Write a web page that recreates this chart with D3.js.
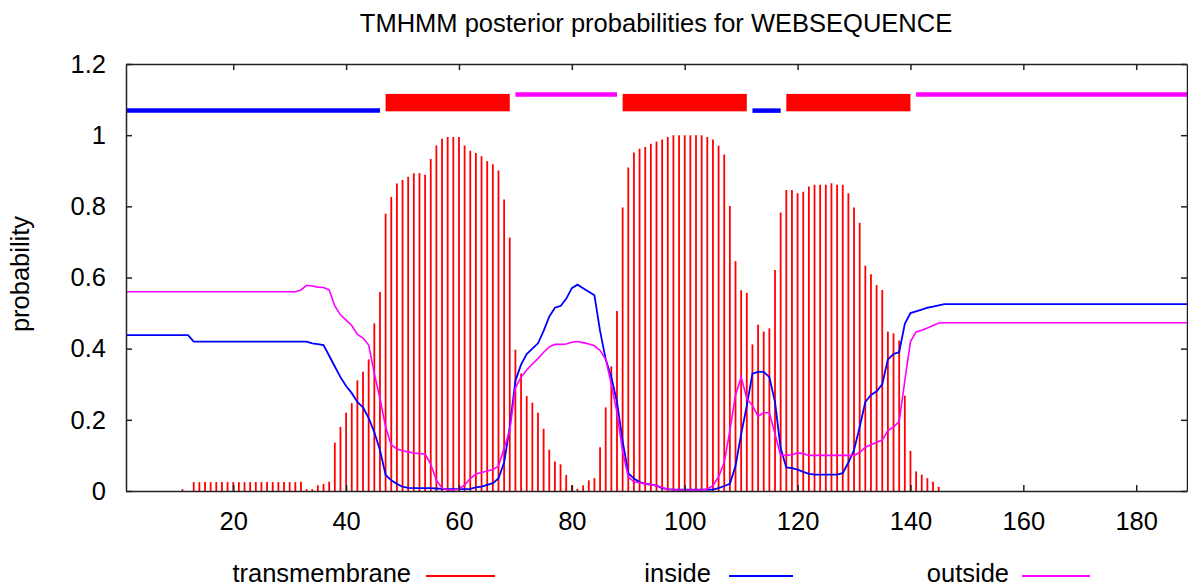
<!DOCTYPE html>
<html>
<head>
<meta charset="utf-8">
<script src="https://cdn.jsdelivr.net/npm/d3@7"></script>
<style>
  body { margin: 0; background: #fff; }
  svg { display: block; font-family: "Liberation Sans", Arial, sans-serif; }
</style>
</head>
<body>
<svg width="1188" height="587"></svg>
<script>
// posterior probabilities per residue (position = index + 1)
const transmembrane = [
  0,0,0,0,0,0,0,0,0,0,
  0.005,0,0.025,0.025,0.025,0.025,0.025,0.025,0.025,0.025,
  0.025,0.025,0.025,0.025,0.025,0.025,0.025,0.025,0.025,0.025,
  0.025,0.026,0.005,0.005,0.016,0.02,0.026,0.136,0.18,0.22,
  0.247,0.311,0.335,0.37,0.471,0.559,0.779,0.826,0.864,0.874,
  0.883,0.893,0.894,0.889,0.933,0.971,0.99,0.995,0.995,0.995,
  0.971,0.956,0.95,0.941,0.927,0.918,0.901,0.819,0.712,0.397,
  0.33,0.267,0.248,0.22,0.175,0.116,0.083,0.075,0.045,0.016,
  0.006,0.016,0.03,0.036,0.123,0.235,0.35,0.506,0.797,0.909,
  0.951,0.962,0.967,0.976,0.982,0.988,0.995,1,1,1,
  1,1,1,0.995,0.988,0.97,0.946,0.801,0.646,0.564,
  0.557,0.412,0.467,0.448,0.457,0.621,0.783,0.846,0.846,0.837,
  0.841,0.856,0.861,0.861,0.861,0.865,0.861,0.861,0.837,0.797,
  0.754,0.633,0.609,0.579,0.565,0.448,0.443,0.423,0.268,0.113,
  0.055,0.046,0.036,0.026,0.012
];

const inside = [
  0.438,0.438,0.438,0.438,0.438,0.438,0.438,0.438,0.438,0.438,
  0.438,0.438,0.42,0.42,0.42,0.42,0.42,0.42,0.42,0.42,
  0.42,0.42,0.42,0.42,0.42,0.42,0.42,0.42,0.42,0.42,
  0.42,0.42,0.42,0.415,0.413,0.41,0.38,0.35,0.32,0.295,
  0.275,0.25,0.235,0.205,0.165,0.115,0.045,0.03,0.02,0.012,
  0.009,0.008,0.008,0.008,0.008,0.007,0.006,0.005,0.005,0.005,
  0.005,0.006,0.01,0.012,0.017,0.022,0.035,0.08,0.18,0.31,
  0.355,0.385,0.4,0.415,0.45,0.49,0.515,0.52,0.54,0.57,
  0.58,0.57,0.56,0.55,0.45,0.37,0.32,0.25,0.14,0.05,
  0.035,0.025,0.02,0.018,0.015,0.008,0.005,0.004,0.004,0.004,
  0.004,0.004,0.004,0.004,0.004,0.008,0.014,0.02,0.07,0.16,
  0.24,0.33,0.335,0.335,0.32,0.25,0.12,0.066,0.064,0.06,
  0.054,0.048,0.046,0.046,0.046,0.046,0.046,0.05,0.08,0.115,
  0.18,0.25,0.27,0.28,0.3,0.37,0.385,0.39,0.47,0.5,
  0.505,0.51,0.515,0.518,0.522,0.525,0.525,0.525,0.525,0.525,
  0.525,0.525,0.525,0.525,0.525,0.525,0.525,0.525,0.525,0.525,
  0.525,0.525,0.525,0.525,0.525,0.525,0.525,0.525,0.525,0.525,
  0.525,0.525,0.525,0.525,0.525,0.525,0.525,0.525,0.525,0.525,
  0.525,0.525,0.525,0.525,0.525,0.525,0.525,0.525,0.525
];

const outside = [
  0.56,0.56,0.56,0.56,0.56,0.56,0.56,0.56,0.56,0.56,
  0.56,0.56,0.56,0.56,0.56,0.56,0.56,0.56,0.56,0.56,
  0.56,0.56,0.56,0.56,0.56,0.56,0.56,0.56,0.56,0.56,
  0.56,0.565,0.578,0.576,0.573,0.572,0.565,0.52,0.495,0.48,
  0.465,0.44,0.43,0.41,0.33,0.26,0.18,0.13,0.118,0.113,
  0.11,0.107,0.105,0.104,0.075,0.03,0.008,0.003,0.003,0.005,
  0.017,0.035,0.048,0.052,0.056,0.06,0.07,0.12,0.17,0.29,
  0.32,0.34,0.357,0.372,0.39,0.405,0.412,0.412,0.413,0.418,
  0.42,0.417,0.413,0.408,0.395,0.37,0.3,0.22,0.11,0.04,
  0.026,0.023,0.02,0.018,0.015,0.01,0.005,0.003,0.003,0.003,
  0.003,0.003,0.003,0.006,0.015,0.04,0.08,0.17,0.27,0.32,
  0.26,0.24,0.21,0.22,0.22,0.16,0.1,0.1,0.102,0.107,
  0.105,0.1,0.1,0.1,0.1,0.1,0.1,0.1,0.1,0.1,
  0.108,0.123,0.13,0.137,0.143,0.17,0.18,0.195,0.31,0.42,
  0.447,0.452,0.458,0.465,0.472,0.473,0.473,0.473,0.473,0.473,
  0.473,0.473,0.473,0.473,0.473,0.473,0.473,0.473,0.473,0.473,
  0.473,0.473,0.473,0.473,0.473,0.473,0.473,0.473,0.473,0.473,
  0.473,0.473,0.473,0.473,0.473,0.473,0.473,0.473,0.473,0.473,
  0.473,0.473,0.473,0.473,0.473,0.473,0.473,0.473,0.473
];

// predicted topology
const segStart = [1, 47, 70, 89, 112, 118, 141];
const segEnd = [46, 69, 88, 111, 117, 140, 189];
const segType = ["inside", "TMhelix", "outside", "TMhelix", "inside", "TMhelix", "outside"];

const xTicks = [20, 40, 60, 80, 100, 120, 140, 160, 180];
const yTicks = [0, 0.2, 0.4, 0.6, 0.8, 1, 1.2];
const legendLabels = ["transmembrane", "inside", "outside"];
const seqLength = 189;

const colors = { transmembrane: "#ff0000", TMhelix: "#ff0000", inside: "#0000ff", outside: "#ff00ff" };
const fontSize = 25.5;

const svg = d3.select("svg");
const plotLeft = 126, plotRight = 1187, plotTop = 64, plotBottom = 491;

const x = d3.scaleLinear().domain([1, seqLength]).range([plotLeft, plotRight]);
const y = d3.scaleLinear().domain([0, 1.2]).range([plotBottom, plotTop]);

// title
svg.append("text")
  .attr("x", 656)
  .attr("y", 32)
  .attr("text-anchor", "middle")
  .attr("font-size", fontSize)
  .text("TMHMM posterior probabilities for WEBSEQUENCE");

// y label
svg.append("text")
  .attr("transform", "translate(29,274) rotate(-90)")
  .attr("text-anchor", "middle")
  .attr("font-size", fontSize)
  .text("probability");

const plot = svg.append("g");

// transmembrane impulses
const tmData = transmembrane.map((v, i) => ({ pos: i + 1, v })).filter(d => d.v > 0);
plot.selectAll(".bar")
  .data(tmData)
  .enter()
  .append("line")
  .attr("class", "bar")
  .attr("x1", d => x(d.pos))
  .attr("x2", d => x(d.pos))
  .attr("y1", y(0))
  .attr("y2", d => y(d.v))
  .attr("stroke", colors.transmembrane)
  .attr("stroke-width", 1.8);

const line = d3.line().x(d => x(d.pos)).y(d => y(d.v));

plot.append("path")
  .datum(inside.map((v, i) => ({ pos: i + 1, v })))
  .attr("d", line)
  .attr("fill", "none")
  .attr("stroke", colors.inside)
  .attr("stroke-width", 1.8);

plot.append("path")
  .datum(outside.map((v, i) => ({ pos: i + 1, v })))
  .attr("d", line)
  .attr("fill", "none")
  .attr("stroke", colors.outside)
  .attr("stroke-width", 1.6);

// topology bar on top
const segs = segStart.map((s, i) => ({ start: s, end: segEnd[i], type: segType[i] }));
segs.forEach(s => {
  if (s.type === "TMhelix") {
    plot.append("rect")
      .attr("x", x(s.start))
      .attr("y", y(1.116))
      .attr("width", x(s.end) - x(s.start))
      .attr("height", y(1.067) - y(1.116))
      .attr("fill", colors.TMhelix);
  } else {
    const level = s.type === "inside" ? 1.069 : 1.114;
    plot.append("line")
      .attr("x1", x(s.start))
      .attr("x2", x(s.end))
      .attr("y1", y(level))
      .attr("y2", y(level))
      .attr("stroke", colors[s.type])
      .attr("stroke-width", 4.5);
  }
});

// axes, ticks pointing inward on all four sides
function styleAxis(g) {
  g.attr("font-family", null).attr("font-size", fontSize);
  g.selectAll("path, line").attr("stroke", "#222").attr("stroke-width", 1.5);
  g.selectAll("text").attr("fill", "#000");
}

svg.append("g")
  .attr("transform", `translate(0,${plotBottom})`)
  .call(d3.axisBottom(x).tickValues(xTicks).tickSize(-6).tickSizeOuter(0).tickPadding(21))
  .call(styleAxis);

svg.append("g")
  .attr("transform", `translate(0,${plotTop})`)
  .call(d3.axisTop(x).tickValues(xTicks).tickSize(-6).tickSizeOuter(0).tickFormat(""))
  .call(styleAxis);

svg.append("g")
  .attr("transform", `translate(${plotLeft},0)`)
  .call(d3.axisLeft(y).tickValues(yTicks).tickFormat(d3.format("~g")).tickSize(-6).tickSizeOuter(0).tickPadding(20))
  .call(styleAxis);

svg.append("g")
  .attr("transform", `translate(${plotRight},0)`)
  .call(d3.axisRight(y).tickValues(yTicks).tickSize(-6).tickSizeOuter(0).tickFormat(""))
  .call(styleAxis);

// legend
const legendTextEnd = [411, 711, 1009];
const legendLineStart = [426, 729, 1022];
const legendLineEnd = [495, 793, 1090];
const legend = svg.append("g");
legendLabels.forEach((name, i) => {
  legend.append("text")
    .attr("x", legendTextEnd[i])
    .attr("y", 582)
    .attr("text-anchor", "end")
    .attr("font-size", fontSize)
    .text(name);
  legend.append("line")
    .attr("x1", legendLineStart[i])
    .attr("x2", legendLineEnd[i])
    .attr("y1", 576)
    .attr("y2", 576)
    .attr("stroke", colors[name])
    .attr("stroke-width", 1.8);
});
</script>
</body>
</html>
